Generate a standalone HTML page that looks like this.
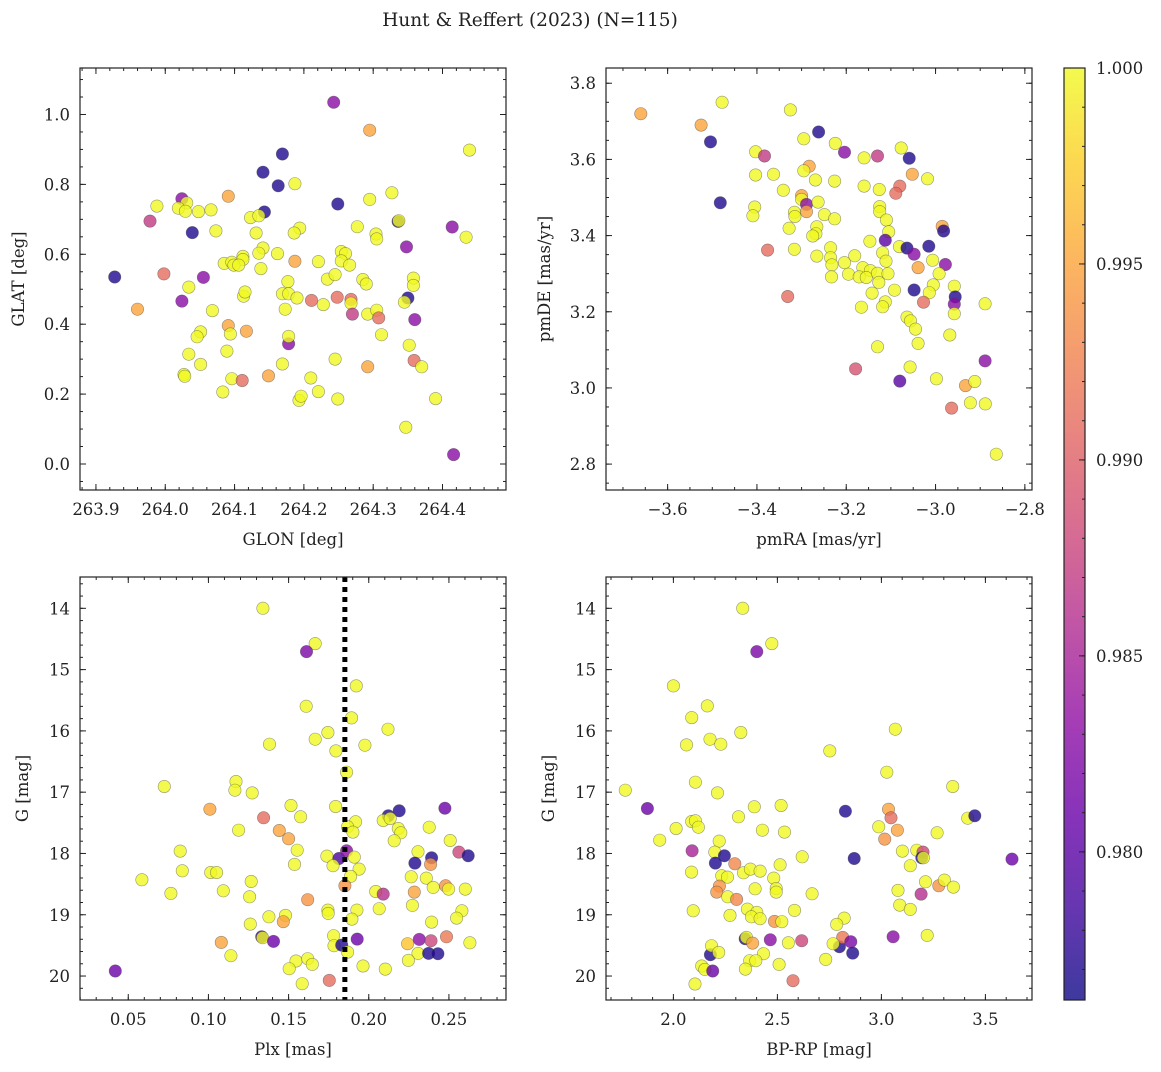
<!DOCTYPE html>
<html><head><meta charset="utf-8"><style>
html,body{margin:0;padding:0;background:#fff;}
svg text{font-family:"DejaVu Serif","Liberation Serif",serif;fill:#222;}
</style></head><body>
<svg id="fig" width="1161" height="1067" viewBox="0 0 1161 1067" xmlns="http://www.w3.org/2000/svg">
<defs><linearGradient id="cbgrad" x1="0" y1="1" x2="0" y2="0">
<stop offset="0" stop-color="#0d0887"/><stop offset="0.1" stop-color="#41049d"/><stop offset="0.2" stop-color="#6a00a8"/><stop offset="0.3" stop-color="#8f0da4"/><stop offset="0.4" stop-color="#b12a90"/><stop offset="0.5" stop-color="#cc4778"/><stop offset="0.6" stop-color="#e16462"/><stop offset="0.7" stop-color="#f2844b"/><stop offset="0.8" stop-color="#fca636"/><stop offset="0.9" stop-color="#fcce25"/><stop offset="1" stop-color="#f0f921"/>
</linearGradient></defs>
<text x="530" y="26" text-anchor="middle" font-size="18.5">Hunt &amp; Reffert (2023) (N=115)</text>
</svg>
<script>
const p1_glon=[264.243,264.295,264.439,264.169,264.141,264.187,264.163,264.327,264.091,264.295,264.024,264.031,263.988,264.249,264.019,264.029,264.048,264.066,264.143,264.123,264.135,263.978,264.336,264.337,264.277,264.414,264.039,264.073,264.131,264.194,264.186,264.304,264.305,264.434,264.348,264.141,264.135,264.162,264.112,264.112,264.085,264.096,264.099,264.106,264.138,264.187,264.221,264.254,264.26,264.254,264.266,263.927,263.998,264.055,264.034,264.177,264.234,264.245,264.285,264.29,264.358,264.358,264.024,264.113,264.115,264.169,264.178,264.19,264.173,264.211,264.228,264.248,264.268,264.268,264.27,264.292,264.305,264.308,264.35,264.345,264.36,263.96,264.068,264.091,264.094,264.117,264.051,264.046,264.178,264.178,264.312,264.352,264.034,264.089,264.051,264.169,264.245,264.292,264.359,264.37,264.027,264.028,264.096,264.111,264.149,264.21,264.083,264.221,264.193,264.196,264.249,264.39,264.347,264.416];
const p1_glat=[1.035,0.955,0.898,0.887,0.835,0.802,0.796,0.776,0.766,0.757,0.759,0.747,0.738,0.744,0.732,0.723,0.722,0.727,0.721,0.705,0.710,0.695,0.694,0.696,0.679,0.678,0.662,0.667,0.661,0.675,0.661,0.658,0.644,0.649,0.621,0.618,0.603,0.602,0.594,0.585,0.574,0.577,0.569,0.569,0.559,0.58,0.579,0.608,0.602,0.581,0.569,0.535,0.544,0.534,0.506,0.522,0.529,0.542,0.528,0.515,0.532,0.511,0.466,0.48,0.492,0.487,0.487,0.475,0.443,0.468,0.456,0.477,0.471,0.46,0.429,0.429,0.44,0.418,0.475,0.463,0.413,0.443,0.439,0.396,0.372,0.38,0.378,0.364,0.344,0.365,0.37,0.34,0.314,0.323,0.285,0.286,0.3,0.278,0.296,0.278,0.256,0.251,0.244,0.239,0.252,0.246,0.206,0.207,0.182,0.194,0.186,0.187,0.105,0.027];
const p1_prob=[0.983,0.995,1,0.977,0.977,1,0.977,1,0.995,1,0.983,1,1,0.977,1,1,1,1,0.977,1,1,0.987,0.977,1,1,0.983,0.977,1,1,1,1,1,1,1,0.983,1,1,1,1,1,1,1,1,1,1,0.995,1,1,1,1,1,0.977,0.991,0.983,1,1,1,1,1,1,1,1,0.983,1,1,1,1,1,1,0.991,1,0.991,0.991,1,0.987,1,1,0.991,0.977,1,0.983,0.995,1,0.995,1,0.995,1,1,0.983,1,1,1,1,1,1,1,1,0.995,0.991,1,1,1,1,0.991,0.995,1,1,1,1,1,1,1,1,0.983];

const p2_pmra=[-3.66,-3.478,-3.525,-3.504,-3.325,-3.262,-3.295,-3.2245,-3.204,-3.403,-3.383,-3.16,-3.13,-3.077,-3.059,-3.283,-3.295,-3.403,-3.363,-3.269,-3.226,-3.052,-3.018,-3.08,-3.089,-3.16,-3.126,-3.341,-3.3,-3.3,-3.482,-3.289,-3.263,-3.405,-3.409,-3.289,-3.316,-3.315,-3.249,-3.226,-3.125,-3.125,-3.11,-2.985,-2.982,-3.105,-3.266,-3.268,-3.275,-3.328,-3.1125,-3.147,-3.081,-3.064,-3.015,-3.048,-3.376,-3.316,-3.235,-3.235,-3.266,-3.204,-3.181,-3.1185,-3.111,-3.232,-3.0065,-2.978,-3.039,-3.163,-3.146,-3.195,-3.233,-3.171,-3.155,-3.13,-3.1065,-3.127,-2.992,-3.005,-3.014,-2.958,-2.956,-2.958,-2.958,-3.048,-3.092,-3.142,-3.027,-3.1125,-3.1185,-3.166,-3.331,-2.889,-3.064,-3.056,-3.045,-2.968,-3.13,-3.039,-2.889,-3.179,-3.057,-3.08,-2.998,-2.933,-2.912,-2.922,-2.8885,-2.964,-2.864];
const p2_pmde=[3.72,3.75,3.69,3.646,3.73,3.672,3.654,3.642,3.619,3.62,3.609,3.604,3.609,3.63,3.603,3.582,3.57,3.559,3.561,3.546,3.543,3.561,3.549,3.53,3.511,3.53,3.521,3.519,3.505,3.495,3.486,3.482,3.488,3.475,3.452,3.463,3.461,3.45,3.455,3.444,3.476,3.463,3.441,3.424,3.412,3.41,3.423,3.405,3.399,3.419,3.388,3.385,3.371,3.367,3.372,3.351,3.362,3.364,3.368,3.342,3.346,3.329,3.347,3.355,3.333,3.323,3.335,3.324,3.316,3.316,3.308,3.2985,3.2915,3.2915,3.29,3.301,3.3,3.277,3.3,3.2705,3.25,3.267,3.239,3.22,3.195,3.257,3.2565,3.249,3.225,3.226,3.213,3.212,3.24,3.221,3.186,3.176,3.1545,3.139,3.108,3.117,3.071,3.05,3.055,3.018,3.024,3.006,3.017,2.961,2.958,2.947,2.826];
const p2_prob=[0.995,1,0.995,0.977,1,0.977,1,1,0.983,1,0.987,1,0.987,1,0.977,0.995,1,1,1,1,1,0.995,1,0.991,0.991,1,1,1,0.995,1,0.977,0.983,1,1,1,0.995,1,1,1,1,1,1,1,0.995,0.977,1,1,1,1,1,0.98,1,1,0.977,0.977,0.983,0.991,1,1,1,1,1,1,1,1,1,1,0.983,0.995,1,1,1,1,1,1,1,1,1,1,1,1,1,0.977,0.983,1,0.977,1,1,0.991,1,1,1,0.991,1,1,1,1,1,1,1,0.983,0.989,1,0.98,1,0.995,1,1,1,0.991,1];

const p3_plx=[0.134,0.1666,0.1612,0.1922,0.161,0.1893,0.212,0.1745,0.1381,0.1666,0.1976,0.1795,0.1862,0.0725,0.1172,0.1165,0.1273,0.1009,0.1515,0.1793,0.2475,0.1344,0.1575,0.2122,0.219,0.209,0.2134,0.1918,0.1868,0.1901,0.2184,0.22,0.2377,0.1188,0.1442,0.15,0.1554,0.2159,0.2508,0.0824,0.1739,0.1814,0.1862,0.191,0.2307,0.2562,0.262,0.2392,0.2288,0.2386,0.1537,0.1777,0.194,0.0837,0.1014,0.1051,0.0585,0.1267,0.1887,0.2265,0.2359,0.1851,0.2402,0.2479,0.2498,0.2602,0.0766,0.1093,0.2043,0.209,0.2284,0.1257,0.1619,0.2272,0.2065,0.1745,0.1747,0.1926,0.2581,0.2548,0.1895,0.1377,0.1481,0.1467,0.2392,0.1261,0.1332,0.1338,0.1406,0.108,0.1781,0.1783,0.1831,0.1928,0.1868,0.2242,0.2315,0.2388,0.2485,0.2631,0.2307,0.2373,0.2431,0.114,0.0419,0.1546,0.1619,0.1648,0.1504,0.1964,0.2103,0.2247,0.1585,0.1754];
const p3_g=[14.0,14.576,14.707,15.266,15.598,15.788,15.973,16.027,16.217,16.136,16.234,16.326,16.674,16.908,16.826,16.967,17.011,17.277,17.217,17.234,17.261,17.418,17.402,17.386,17.304,17.462,17.43,17.484,17.565,17.652,17.592,17.663,17.571,17.62,17.625,17.761,17.946,17.793,17.788,17.962,18.043,18.082,17.957,18.06,17.973,17.978,18.038,18.071,18.158,18.179,18.179,18.2,18.255,18.283,18.31,18.31,18.429,18.457,18.375,18.38,18.402,18.527,18.554,18.527,18.582,18.582,18.652,18.609,18.62,18.663,18.63,18.707,18.755,18.848,18.902,18.924,18.978,18.924,18.935,19.054,19.071,19.033,19.011,19.114,19.12,19.152,19.359,19.375,19.435,19.451,19.342,19.505,19.495,19.397,19.609,19.473,19.402,19.424,19.359,19.457,19.63,19.63,19.636,19.668,19.918,19.755,19.717,19.81,19.88,19.837,19.886,19.745,20.125,20.071];
const p3_prob=[1,1,0.982,1,1,1,1,1,1,1,1,1,1,1,1,1,1,0.995,1,1,0.981,0.991,1,0.977,0.977,1,1,1,1,1,1,1,1,1,0.995,0.995,1,1,1,1,1,0.979,0.983,1,1,0.988,0.977,0.977,0.977,0.994,1,1,1,1,1,1,1,1,1,1,1,0.994,1,0.994,1,1,1,1,1,0.986,0.995,1,0.994,1,1,1,1,1,1,1,1,1,1,0.995,1,1,0.978,1,0.981,0.995,1,1,0.977,0.981,1,0.997,0.983,0.988,0.992,1,1,0.977,0.977,1,0.981,1,1,1,1,1,1,1,1,0.991];

const p4_bprp=[2.333,2.473,2.401,2.0,2.163,2.088,2.324,2.176,2.063,2.228,2.752,3.067,3.026,1.769,2.106,2.212,3.343,1.875,2.389,2.518,2.827,3.034,3.046,2.313,2.088,2.106,2.12,2.013,2.428,2.534,2.987,3.077,3.268,3.415,3.449,1.934,2.22,3.016,2.09,2.199,2.245,2.202,2.295,2.619,2.869,3.101,3.17,3.2,3.194,3.202,3.628,3.139,2.513,2.087,2.337,2.37,2.417,2.232,2.26,2.482,2.221,2.208,2.393,2.494,2.494,2.261,2.304,2.667,3.212,3.276,3.303,3.346,3.08,3.191,2.095,2.356,2.401,2.375,2.417,2.272,2.582,2.486,2.521,2.821,2.785,3.088,3.139,3.22,3.056,2.345,2.351,2.381,2.466,2.553,2.617,2.798,2.814,2.853,2.768,2.862,2.178,2.183,2.218,2.433,2.367,2.396,2.732,2.508,2.346,2.136,2.151,2.189,2.104,2.575];
const p4_g=[14.0,14.576,14.707,15.266,15.592,15.783,16.027,16.136,16.228,16.217,16.326,15.973,16.674,16.967,16.837,17.011,16.908,17.266,17.239,17.217,17.31,17.277,17.418,17.402,17.478,17.467,17.571,17.592,17.62,17.652,17.565,17.62,17.663,17.424,17.386,17.783,17.799,17.766,17.957,17.978,18.038,18.158,18.168,18.054,18.082,17.962,17.946,17.978,18.071,18.071,18.092,18.2,18.185,18.304,18.315,18.255,18.288,18.364,18.386,18.402,18.533,18.63,18.576,18.571,18.63,18.707,18.75,18.658,18.462,18.527,18.435,18.549,18.603,18.663,18.935,18.908,18.962,19.033,19.065,19.011,18.929,19.109,19.114,19.054,19.158,18.842,18.913,19.337,19.359,19.391,19.37,19.462,19.408,19.457,19.424,19.522,19.37,19.44,19.473,19.625,19.652,19.505,19.614,19.636,19.75,19.75,19.728,19.81,19.886,19.837,19.891,19.918,20.13,20.076];
const p4_prob=[1,1,0.982,1,1,1,1,1,1,1,1,1,1,1,1,1,1,0.981,1,1,0.977,0.995,0.991,1,1,1,1,1,1,1,1,0.995,1,1,0.977,1,1,0.994,0.985,1,0.977,0.977,0.993,1,0.977,1,1,0.988,0.977,1,0.981,1,1,1,1,1,1,1,1,1,0.994,0.994,1,1,1,1,0.993,1,1,0.994,1,1,1,0.986,1,1,1,1,1,1,1,0.994,1,1,1,1,1,1,0.983,0.977,1,0.995,0.983,1,0.988,0.977,0.992,0.982,1,0.977,0.977,1,1,1,1,1,1,1,1,1,1,0.981,1,0.991];

const plx_cut=[0.1851];
const cb_ticks=[1.000,0.995,0.990,0.985,0.980];
const VMIN=0.97622, VMAX=1.0;

const NS="http://www.w3.org/2000/svg";
const svg=document.getElementById('fig');
function el(tag,attrs,parent){const e=document.createElementNS(NS,tag);for(const k in attrs)e.setAttribute(k,attrs[k]);(parent||svg).appendChild(e);return e;}
const stops=[[13,8,135],[65,4,157],[106,0,168],[143,13,164],[177,42,144],[204,71,120],[225,100,98],[242,132,75],[252,166,54],[252,206,37],[240,249,33]];
function plasma(v){let t=(v-VMIN)/(VMAX-VMIN);t=Math.max(0,Math.min(1,t))*10;const i=Math.min(9,Math.floor(t));const f=t-i;const a=stops[i],b=stops[i+1];return 'rgb('+[0,1,2].map(k=>Math.round(a[k]+(b[k]-a[k])*f)).join(',')+')';}
function fmt(v,d){let s=v.toFixed(d);return s.replace('-','\u2212');}

function panel(cfg){
  const {name,px0,px1,py0,py1,xmin,xmax,ymin,ymax,invY,xt,xminor,yt,yminor,xd,yd,xlabel,ylabel,ylx,xs,ys,cs}=cfg;
  const sx=v=>px0+(v-xmin)/(xmax-xmin)*(px1-px0);
  const sy=v=>invY? py0+(v-ymin)/(ymax-ymin)*(py1-py0) : py1-(v-ymin)/(ymax-ymin)*(py1-py0);
  const g=el('g',{});
  
  
  const pts=el('g',{},g);
  
  
  for(let i=0;i<xs.length;i++){
    const c=el('circle',{cx:sx(xs[i]).toFixed(1),cy:sy(ys[i]).toFixed(1),r:6.2,fill:plasma(cs[i]),'fill-opacity':0.8,stroke:'#444','stroke-opacity':0.55,'stroke-width':0.6},pts);
    
    
  }
  if(cfg.vline){
    const l=el('line',{x1:sx(cfg.vline[0]),x2:sx(cfg.vline[0]),y1:py0,y2:py1,stroke:'#000','stroke-width':5,'stroke-dasharray':'5,5'},g);
    
    
  }
  const ax=el('g',{},g);
  
  
  el('rect',{x:px0,y:py0,width:px1-px0,height:py1-py0,fill:'none',stroke:'#222','stroke-width':1.2},ax);
  const tk=(x1,y1,x2,y2)=>el('line',{x1,y1,x2,y2,stroke:'#222','stroke-width':1},ax);
  for(let v=Math.ceil(xmin/xminor)*xminor;v<=xmax+1e-9;v+=xminor){const x=sx(v);tk(x,py1,x,py1-3);tk(x,py0,x,py0+3);}
  for(let v=Math.ceil(ymin/yminor)*yminor;v<=ymax+1e-9;v+=yminor){const y=sy(v);tk(px0,y,px0+3,y);tk(px1,y,px1-3,y);}
  xt.forEach(v=>{const x=sx(v);tk(x,py1,x,py1-6);tk(x,py0,x,py0+6);
    const t=el('text',{x:x,y:py1+25,'text-anchor':'middle','font-size':16.5},ax);t.textContent=fmt(v,xd);
    });
  yt.forEach(v=>{const y=sy(v);tk(px0,y,px0+6,y);tk(px1,y,px1-6,y);
    const t=el('text',{x:px0-10,y:y+6,'text-anchor':'end','font-size':16.5},ax);t.textContent=fmt(v,yd);
    });
  const xl=el('text',{x:(px0+px1)/2,y:py1+55,'text-anchor':'middle','font-size':16.5},ax);xl.textContent=xlabel;
  
  const yy=(py0+py1)/2;
  const yl=el('text',{x:ylx,y:yy,'text-anchor':'middle','font-size':16.5,transform:'rotate(-90 '+ylx+' '+yy+')'},ax);yl.textContent=ylabel;
  
}

panel({name:'glon-glat-panel',px0:80,px1:506,py0:68,py1:490,xmin:263.877,xmax:264.4916,ymin:-0.0744,ymax:1.133,invY:false,
 xt:[263.9,264.0,264.1,264.2,264.3,264.4],xminor:0.02,yt:[0,0.2,0.4,0.6,0.8,1.0],yminor:0.05,xd:1,yd:1,
 xlabel:'GLON [deg]',ylabel:'GLAT [deg]',ylx:24,xs:p1_glon,ys:p1_glat,cs:p1_prob});
panel({name:'pmra-pmde-panel',px0:606,px1:1032,py0:68,py1:490,xmin:-3.738,xmax:-2.784,ymin:2.732,ymax:3.84,invY:false,
 xt:[-3.6,-3.4,-3.2,-3.0,-2.8],xminor:0.05,yt:[2.8,3.0,3.2,3.4,3.6,3.8],yminor:0.05,xd:1,yd:1,
 xlabel:'pmRA [mas/yr]',ylabel:'pmDE [mas/yr]',ylx:550,xs:p2_pmra,ys:p2_pmde,cs:p2_prob});
panel({name:'plx-g-panel',px0:80,px1:506,py0:577,py1:1000,xmin:0.0199,xmax:0.2856,ymin:13.489,ymax:20.391,invY:true,
 xt:[0.05,0.10,0.15,0.20,0.25],xminor:0.01,yt:[14,15,16,17,18,19,20],yminor:0.2,xd:2,yd:0,
 xlabel:'Plx [mas]',ylabel:'G [mag]',ylx:28,xs:p3_plx,ys:p3_g,cs:p3_prob,vline:plx_cut});
panel({name:'bprp-g-panel',px0:606,px1:1032,py0:577,py1:1000,xmin:1.676,xmax:3.724,ymin:13.489,ymax:20.391,invY:true,
 xt:[2.0,2.5,3.0,3.5],xminor:0.1,yt:[14,15,16,17,18,19,20],yminor:0.2,xd:1,yd:0,
 xlabel:'BP-RP [mag]',ylabel:'G [mag]',ylx:554,xs:p4_bprp,ys:p4_g,cs:p4_prob});

// colorbar
const cb=el('g',{});


const cbx0=1064,cbx1=1085,cby0=68,cby1=1000;
el('rect',{x:cbx0,y:cby0,width:cbx1-cbx0,height:cby1-cby0,fill:'url(#cbgrad)','fill-opacity':0.8},cb);
el('rect',{x:cbx0,y:cby0,width:cbx1-cbx0,height:cby1-cby0,fill:'none',stroke:'#222','stroke-width':1.2},cb);
const cy=v=>cby1-(v-VMIN)/(VMAX-VMIN)*(cby1-cby0);
for(let v=0.977;v<=1.00001;v+=0.001){const y=cy(v);el('line',{x1:cbx1,x2:cbx1-3,y1:y,y2:y,stroke:'#222'},cb);}
cb_ticks.forEach(v=>{const y=cy(v);el('line',{x1:cbx1,x2:cbx1-6,y1:y,y2:y,stroke:'#222'},cb);
  const t=el('text',{x:cbx1+11,y:y+6,'font-size':16.5},cb);t.textContent=v.toFixed(3);
  });
</script>
</body></html>
